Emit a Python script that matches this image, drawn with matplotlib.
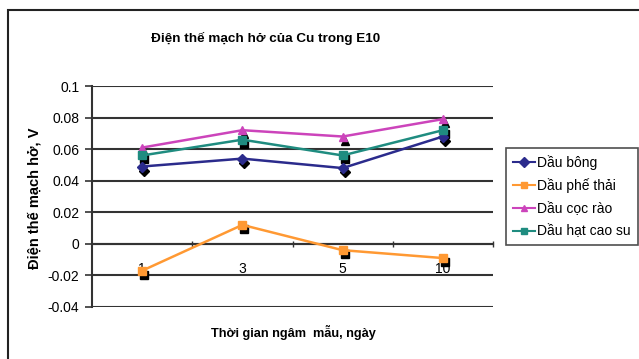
import matplotlib.pyplot as plt
import matplotlib.transforms as mtransforms
from matplotlib.patches import Rectangle

plt.rcParams['font.family'] = ['Liberation Sans', 'DejaVu Sans']

# Ngày ngâm mẫu và điện thế mạch hở (V)
days = ['1', '3', '5', '10']
dau_bong = [0.049, 0.054, 0.048, 0.068]
dau_phe_thai = [-0.017, 0.012, -0.004, -0.009]
dau_coc_rao = [0.061, 0.072, 0.068, 0.079]
dau_hat_cao_su = [0.056, 0.066, 0.056, 0.072]

series = [
    ('Dầu bông', dau_bong, '#2B2B8C', 'D', 5),
    ('Dầu phế thải', dau_phe_thai, '#FF9933', 's', 6),
    ('Dầu cọc rào', dau_coc_rao, '#CC44BB', '^', 6),
    ('Dầu hạt cao su', dau_hat_cao_su, '#1F8C80', 's', 6),
]

W, H = 639, 359
fig = plt.figure(figsize=(W / 100, H / 100), dpi=100)
fig.patches.append(Rectangle((8 / W, -0.1), 1.1, 1 - 10 / H + 0.1, transform=fig.transFigure,
                             fill=False, edgecolor='#222222', linewidth=1.5))

ax = fig.add_axes([92 / W, 1 - 307 / H, (493 - 92) / W, (307 - 86) / H])
x = list(range(len(days)))

# bóng đen lệch xuống dưới bên phải của marker
shadow = mtransforms.offset_copy(ax.transData, fig=fig, x=2, y=-4, units='dots')
for name, vals, color, marker, ms in series:
    ax.plot(x, vals, linestyle='none', marker=marker, markersize=ms, color='black',
            transform=shadow, zorder=3)
for name, vals, color, marker, ms in series:
    ax.plot(x, vals, color=color, marker=marker, markersize=ms, linewidth=1.8,
            label=name, zorder=4)

ax.set_xlim(-0.5, 3.5)
ax.set_ylim(-0.04, 0.1)
ax.set_yticks([-0.04, -0.02, 0, 0.02, 0.04, 0.06, 0.08, 0.1])
ax.set_yticklabels(['-0.04', '-0.02', '0', '0.02', '0.04', '0.06', '0.08', '0.1'])
ax.yaxis.grid(True, color='#333333', linewidth=1.5)
ax.set_axisbelow(True)

ax.set_xticks(x)
ax.set_xticklabels(days)
ax.set_xticks([0.5, 1.5, 2.5, 3.5], minor=True)
ax.tick_params(axis='x', which='major', length=0, pad=13, labelsize=10)
ax.tick_params(axis='x', which='minor', length=4, width=1, direction='inout', color='#333333')
ax.tick_params(axis='y', length=5, width=1.2, labelsize=10, pad=4, color='#333333')

ax.spines['top'].set_visible(False)
ax.spines['right'].set_visible(False)
ax.spines['bottom'].set_position(('data', 0))
ax.spines['bottom'].set_color('#333333')
ax.spines['bottom'].set_linewidth(1.5)
ax.spines['left'].set_color('#333333')
ax.spines['left'].set_linewidth(1.5)

fig.text(266 / W, 1 - 38 / H, 'Điện thế mạch hở của Cu trong E10', ha='center', va='center',
         fontsize=9.7, fontweight='bold')
fig.text(35 / W, 1 - 198 / H, 'Điện thế mạch hở, V', ha='center', va='center',
         rotation=90, fontsize=10.5, fontweight='bold')
fig.text(293 / W, 1 - 332 / H, 'Thời gian ngâm  mẫu, ngày', ha='center', va='center',
         fontsize=9.2, fontweight='bold')

leg = ax.legend(loc='upper left', bbox_to_anchor=(506 / W, 1 - 148 / H),
                bbox_transform=fig.transFigure, frameon=True, fancybox=False,
                fontsize=10, handlelength=1.6, handletextpad=0.15, labelspacing=0.62,
                borderpad=0.5, borderaxespad=0)
leg.get_frame().set_edgecolor('#222222')
leg.get_frame().set_linewidth(1.2)
for line in leg.get_lines():
    line.set_linewidth(1.5)
    line.set_markersize(5)

fig.savefig('out.png', dpi=100)
